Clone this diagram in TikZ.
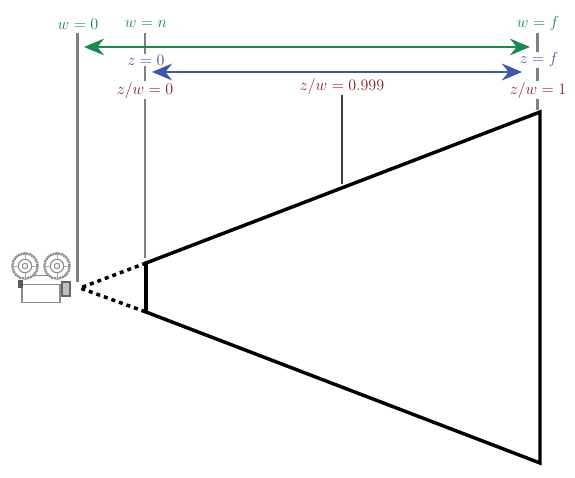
\documentclass[tikz,border=0pt]{standalone}
\usetikzlibrary{arrows.meta}
\definecolor{wgreen}{HTML}{1B8A4E}
\definecolor{zblue}{HTML}{3F55A8}
\definecolor{zwred}{HTML}{85202C}
\begin{document}
\begin{tikzpicture}[
            x=0.75pt, y=-0.75pt,
            lbl/.style={fill=white, inner sep=0.4pt, font=\large},
            plane/.style={draw=black!50, line width=1.6pt},
            leader/.style={draw=black!75, line width=0.9pt},
            frustum/.style={line width=2.6pt, line join=miter},
            spanarrow/.style={<->, >={Stealth[length=15pt, width=12.5pt, inset=5pt]}, line width=1.9pt},
            cam/.style={draw=black!45, line width=0.8pt, fill=white}
        ]
            \useasboundingbox (0,0) rectangle (575,478);

            % Frustum corners
            \coordinate (eye) at (80,288);
            \coordinate (nearT) at (146,263);
            \coordinate (nearB) at (146,312);
            \coordinate (farT) at (540,112);
            \coordinate (farB) at (540,463);
            \coordinate (midT) at (342,184);

            % Grey planes
            \coordinate (wzeroT) at (77.5,33);
            \coordinate (wzeroB) at (77.5,282);
            \coordinate (wnearT) at (145,33);
            \coordinate (wnearB) at (145,258);
            \coordinate (wfarT) at (537.5,33);
            \coordinate (wfarB) at (537.5,110);
            \draw[plane] (wzeroT) -- (wzeroB);
            \draw[plane] (wnearT) -- (wnearB);
            \draw[plane] (wfarT) -- (wfarB);

            % Labels
            \node[lbl, text=wgreen] (wzero) at (78,24) {$w=0$};
            \node[lbl, text=wgreen] (wnear) at (146,24) {$w=n$};
            \node[lbl, text=wgreen] (wfar) at (538,24) {$w=f$};
            \node[lbl, text=zblue] (znear) at (146,60) {$z=0$};
            \node[lbl, text=zblue] (zfar) at (539,60) {$z=f$};
            \node[lbl, text=zwred] (zwnear) at (145,90) {$z/w=0$};
            \node[lbl, text=zwred] (zwmid) at (342,86) {$z/w=0.999$};
            \node[lbl, text=zwred] (zwfar) at (538,90) {$z/w=1$};

            % Range arrows
            \coordinate (greenL) at (84,47);
            \coordinate (greenR) at (530,47);
            \coordinate (blueL) at (152,72);
            \coordinate (blueR) at (522,72);
            \draw[spanarrow, wgreen] (greenL) -- (greenR);
            \draw[spanarrow, zblue] (blueL) -- (blueR);

            % Frustum
            \draw[leader] (zwmid) -- (midT);
            \draw[frustum] (nearT) -- (farT) -- (farB) -- (nearB) -- cycle;
            \draw[line width=3.2pt] (nearT) -- (nearB);
            \draw[line width=2.6pt, dash pattern=on 3pt off 3pt] (nearT) -- (eye) -- (nearB);

            % Camera
            \node[cam, minimum width=28.5pt, minimum height=13pt, inner sep=0pt] (body) at (41,293.5) {};
            \node[cam, draw=black!60, fill=black!25, minimum width=6pt, minimum height=10.5pt, inner sep=0pt] (lens) at (66,289) {};
            \node[draw=black!65, fill=black!65, minimum width=3pt, minimum height=5pt, inner sep=0pt] (tab) at (20,283.5) {};
            \foreach \name/\cx in {reelL/25, reelR/57} {
                \node[cam, circle, minimum size=19pt, inner sep=0pt, line width=1.8pt, dash pattern=on 1.6pt off 0.5pt] (\name) at (\cx,266) {};
                \node[cam, circle, minimum size=10pt, inner sep=0pt] (\name in) at (\cx,266) {};
                \node[cam, circle, minimum size=4pt, inner sep=0pt] (\name hub) at (\cx,266) {};
                \draw[draw=black!35, line width=0.6pt] (\name in.north) -- (\name.north) (\name in.south) -- (\name.south) (\name in.east) -- (\name.east) (\name in.west) -- (\name.west);
            }
            \draw[draw=black!45, line width=0.8pt] (reelL.south east) -- (reelR.south west);
        \end{tikzpicture}
\end{document}
